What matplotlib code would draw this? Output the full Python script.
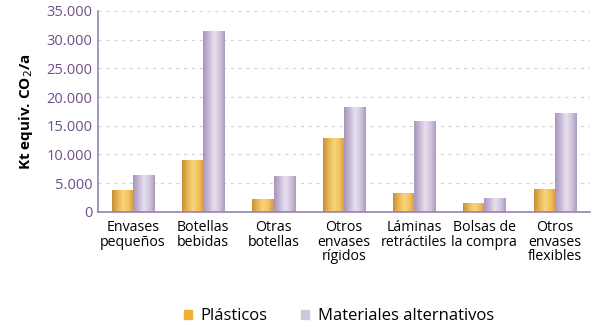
import matplotlib.pyplot as plt
import numpy as np
from matplotlib.colors import LinearSegmentedColormap

# Values (Kt equiv. CO2/a)
categories = ['Envases\npequeños', 'Botellas\nbebidas', 'Otras\nbotellas', 'Otros\nenvases\nrígidos',
              'Láminas\nretráctiles', 'Bolsas de\nla compra', 'Otros\nenvases\nflexibles']
plasticos = [3700, 9000, 2100, 12800, 3300, 1500, 3950]
alternativos = [6300, 31500, 6200, 18200, 15700, 2400, 17200]
yticks = [0, 5000, 10000, 15000, 20000, 25000, 30000, 35000]
ytick_labels = ['0', '5.000', '10.000', '15.000', '20.000', '25.000', '30.000', '35.000']

plt.rcParams['font.family'] = ['Open Sans', 'DejaVu Sans']

axis_col = '#9a82b0'
tick_col = '#6e4f8c'

orange_cmap = LinearSegmentedColormap.from_list('o', ['#c98f35', '#e8b455', '#f7d57a', '#f2c35e', '#d69a3c'])
purple_cmap = LinearSegmentedColormap.from_list('p', ['#a996bb', '#c6b8d4', '#e6e0ee', '#d3c8de', '#ad9bbf'])

x = np.arange(len(categories))
width = 0.3

fig = plt.figure(figsize=(6, 3.31), dpi=100)
ax = fig.add_axes([0.163, 0.36, 0.82, 0.607])

b1 = ax.bar(x - width / 2, plasticos, width, color='#f0b030', label='Plásticos')
b2 = ax.bar(x + width / 2, alternativos, width, color='#cfc6da', label='Materiales alternativos')

# shaded cylinder look
grad = np.linspace(0, 1, 64).reshape(1, -1)
for bars, cmap in ((b1, orange_cmap), (b2, purple_cmap)):
    for bar in bars:
        bx, bw, bh = bar.get_x(), bar.get_width(), bar.get_height()
        ax.imshow(grad, cmap=cmap, aspect='auto', extent=(bx, bx + bw, 0, bh), zorder=2)
        bar.set_alpha(0)

ax.set_xlim(-0.5, len(categories) - 0.5)
ax.set_ylim(0, 35000)
ax.set_yticks(yticks)
ax.set_yticklabels(ytick_labels, color=tick_col, fontsize=10.5)
ax.set_xticks(x)
ax.set_xticklabels(categories, fontsize=10.2, linespacing=0.95)
ax.tick_params(length=0, pad=4)
ax.tick_params(axis='x', pad=6)

ax.set_ylabel('Kt equiv. CO$_2$/a', fontsize=11, fontweight='bold', labelpad=8)

for y in yticks[1:]:
    ax.axhline(y, color='#d4d4d4', linestyle=(0, (3, 4)), linewidth=0.8, zorder=0)

for s in ['top', 'right']:
    ax.spines[s].set_visible(False)
for s in ['left', 'bottom']:
    ax.spines[s].set_color(axis_col)
    ax.spines[s].set_linewidth(1.2)

ax.legend(loc='center', bbox_to_anchor=(0.49, -0.52), ncol=2, frameon=False,
          fontsize=12, handlelength=0.5, handleheight=0.5, columnspacing=2.0, handletextpad=0.5)
leg = ax.get_legend()
for h, c in zip(leg.legend_handles, ['#f0b030', '#cfc6da']):
    h.set_alpha(1)
    h.set_color(c)

fig.savefig('out.png', dpi=100)
